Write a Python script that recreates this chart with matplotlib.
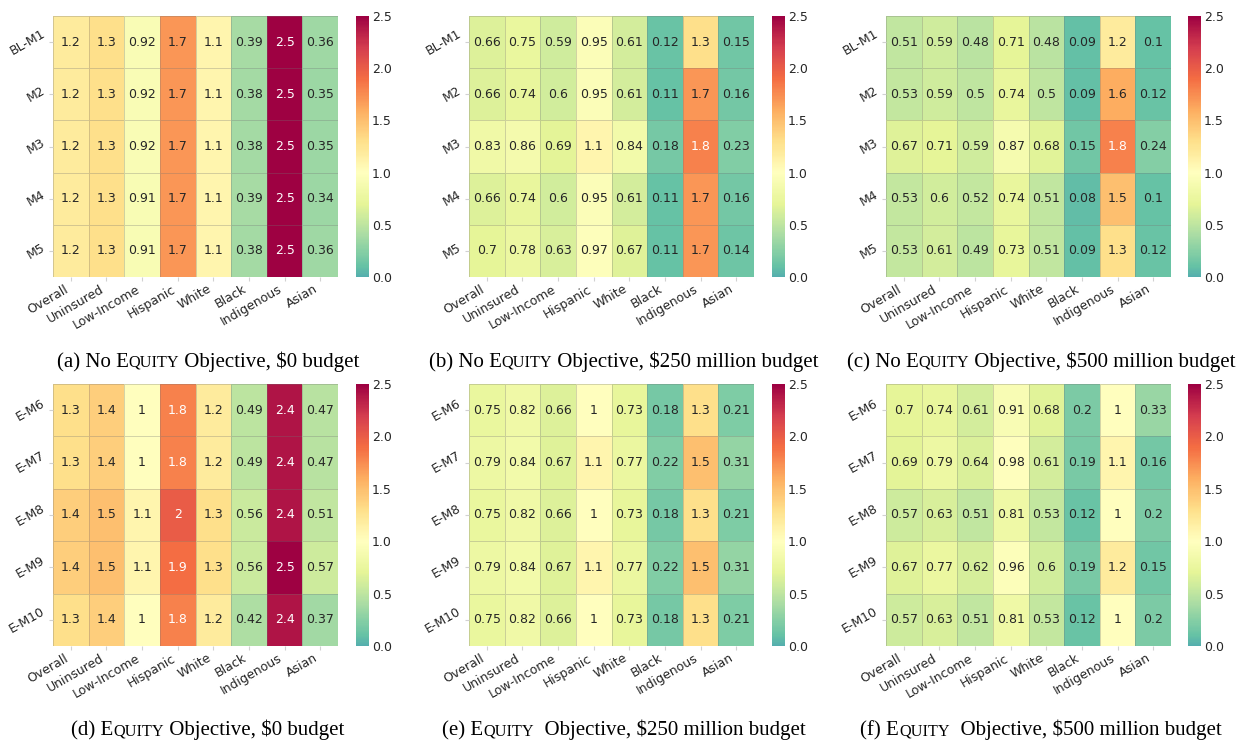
import numpy as np
import matplotlib
matplotlib.use("Agg")
import matplotlib.pyplot as plt
from matplotlib.colors import ListedColormap, Normalize

plt.rcParams["font.family"] = ["DejaVu Sans"]

# ---- data -------------------------------------------------------------
groups = ["Overall", "Uninsured", "Low-Income", "Hispanic", "White",
          "Black", "Indigenous", "Asian"]
baseline_models = ["BL-M1", "M2", "M3", "M4", "M5"]
equity_models = ["E-M6", "E-M7", "E-M8", "E-M9", "E-M10"]

no_equity_0 = [
    [1.2, 1.3, 0.92, 1.7, 1.1, 0.39, 2.5, 0.36],
    [1.2, 1.3, 0.92, 1.7, 1.1, 0.38, 2.5, 0.35],
    [1.2, 1.3, 0.92, 1.7, 1.1, 0.38, 2.5, 0.35],
    [1.2, 1.3, 0.91, 1.7, 1.1, 0.39, 2.5, 0.34],
    [1.2, 1.3, 0.91, 1.7, 1.1, 0.38, 2.5, 0.36],
]
no_equity_250 = [
    [0.66, 0.75, 0.59, 0.95, 0.61, 0.12, 1.3, 0.15],
    [0.66, 0.74, 0.6, 0.95, 0.61, 0.11, 1.7, 0.16],
    [0.83, 0.86, 0.69, 1.1, 0.84, 0.18, 1.8, 0.23],
    [0.66, 0.74, 0.6, 0.95, 0.61, 0.11, 1.7, 0.16],
    [0.7, 0.78, 0.63, 0.97, 0.67, 0.11, 1.7, 0.14],
]
no_equity_500 = [
    [0.51, 0.59, 0.48, 0.71, 0.48, 0.09, 1.2, 0.1],
    [0.53, 0.59, 0.5, 0.74, 0.5, 0.09, 1.6, 0.12],
    [0.67, 0.71, 0.59, 0.87, 0.68, 0.15, 1.8, 0.24],
    [0.53, 0.6, 0.52, 0.74, 0.51, 0.08, 1.5, 0.1],
    [0.53, 0.61, 0.49, 0.73, 0.51, 0.09, 1.3, 0.12],
]
equity_0 = [
    [1.3, 1.4, 1.0, 1.8, 1.2, 0.49, 2.4, 0.47],
    [1.3, 1.4, 1.0, 1.8, 1.2, 0.49, 2.4, 0.47],
    [1.4, 1.5, 1.1, 2.0, 1.3, 0.56, 2.4, 0.51],
    [1.4, 1.5, 1.1, 1.9, 1.3, 0.56, 2.5, 0.57],
    [1.3, 1.4, 1.0, 1.8, 1.2, 0.42, 2.4, 0.37],
]
equity_250 = [
    [0.75, 0.82, 0.66, 1.0, 0.73, 0.18, 1.3, 0.21],
    [0.79, 0.84, 0.67, 1.1, 0.77, 0.22, 1.5, 0.31],
    [0.75, 0.82, 0.66, 1.0, 0.73, 0.18, 1.3, 0.21],
    [0.79, 0.84, 0.67, 1.1, 0.77, 0.22, 1.5, 0.31],
    [0.75, 0.82, 0.66, 1.0, 0.73, 0.18, 1.3, 0.21],
]
equity_500 = [
    [0.7, 0.74, 0.61, 0.91, 0.68, 0.2, 1.0, 0.33],
    [0.69, 0.79, 0.64, 0.98, 0.61, 0.19, 1.1, 0.16],
    [0.57, 0.63, 0.51, 0.81, 0.53, 0.12, 1.0, 0.2],
    [0.67, 0.77, 0.62, 0.96, 0.6, 0.19, 1.2, 0.15],
    [0.57, 0.63, 0.51, 0.81, 0.53, 0.12, 1.0, 0.2],
]

# caption pieces: (label, small-caps word, rest of line)
caption_a = ("(a) No ", "Equity", " Objective, \\$0 budget")
caption_b = ("(b) No ", "Equity", " Objective, \\$250 million budget")
caption_c = ("(c) No ", "Equity", " Objective, \\$500 million budget")
caption_d = ("(d) ", "Equity", " Objective, \\$0 budget")
caption_e = ("(e) ", "Equity", "  Objective, \\$250 million budget")
caption_f = ("(f) ", "Equity", "  Objective, \\$500 million budget")

# ---- figure setup -----------------------------------------------------
W, H = 1239, 740
DPI = 100
fig = plt.figure(figsize=(W / DPI, H / DPI), dpi=DPI)
fig.patch.set_facecolor("white")

TEXT = "#262626"
SERIF = ["Liberation Serif", "DejaVu Serif"]
FS = 9

VMIN, VMAX, CENTER = 0.0, 2.5, 1.0
# Spectral_r re-centred on 1.0 (symmetric range around the centre, then cropped)
vrange = max(VMAX - CENTER, CENTER - VMIN)
lo = (VMIN - (CENTER - vrange)) / (2 * vrange)
hi = (VMAX - (CENTER - vrange)) / (2 * vrange)
base = plt.get_cmap("Spectral_r")
cmap = ListedColormap(base(np.linspace(lo, hi, 256)))
norm = Normalize(VMIN, VMAX)


def luminance(rgb):
    c = np.asarray(rgb[:3], dtype=float)
    c = np.where(c <= 0.03928, c / 12.92, ((c + 0.055) / 1.055) ** 2.4)
    return 0.2126 * c[0] + 0.7152 * c[1] + 0.0722 * c[2]


def px_box(left, top, right, bottom):
    return [left / W, 1 - bottom / H, (right - left) / W, (bottom - top) / H]


def draw_heatmap(values, rows, hm_left, top, bottom, cb_left):
    data = np.asarray(values, dtype=float)
    nrow, ncol = data.shape
    ax = fig.add_axes(px_box(hm_left, top, hm_left + 285, bottom))
    mesh = ax.pcolormesh(np.arange(ncol + 1), np.arange(nrow + 1), data,
                         cmap=cmap, norm=norm,
                         edgecolors=(0.45, 0.45, 0.45, 0.3), linewidth=0.7)
    ax.set_xlim(0, ncol)
    ax.set_ylim(nrow, 0)
    for sp in ax.spines.values():
        sp.set_visible(False)
    for i in range(nrow):
        for j in range(ncol):
            v = data[i, j]
            col = TEXT if luminance(cmap(norm(v))) > 0.408 else "white"
            ax.text(j + 0.5, i + 0.5, format(v, ".2g"), ha="center",
                    va="center", fontsize=FS, color=col)
    ax.set_xticks(np.arange(ncol) + 0.5)
    ax.set_xticklabels(groups, rotation=30, ha="right")
    ax.set_yticks(np.arange(nrow) + 0.5)
    ax.set_yticklabels(rows, rotation=30, ha="right", va="center")
    ax.tick_params(axis="both", length=3, width=0.8, color="0.82",
                   labelsize=FS, labelcolor=TEXT)
    ax.tick_params(axis="x", pad=1)
    ax.tick_params(axis="y", pad=1)

    cax = fig.add_axes(px_box(cb_left, top, cb_left + 13, bottom))
    cb = fig.colorbar(mesh, cax=cax)
    cb.outline.set_visible(False)
    cb.set_ticks([0.0, 0.5, 1.0, 1.5, 2.0, 2.5])
    cb.ax.yaxis.set_major_formatter("{x:.1f}")
    cb.ax.tick_params(length=0, pad=2, labelsize=FS, labelcolor=TEXT)
    return ax


renderer = fig.canvas.get_renderer()


def run_width(s, size):
    # advance width of a run, spaces included, measured between bars
    t1 = fig.text(0, 0, "|" + s + "|", fontsize=size, family=SERIF)
    t2 = fig.text(0, 0, "||", fontsize=size, family=SERIF)
    w = t1.get_window_extent(renderer).width - t2.get_window_extent(renderer).width
    t1.remove()
    t2.remove()
    return w


CAP_SIZE = 15
SC_SIZE = CAP_SIZE * 0.78


def draw_caption(parts, cx, baseline):
    head, word, tail = parts
    pieces = [(head + word[0], CAP_SIZE), (word[1:].upper(), SC_SIZE),
              (tail, CAP_SIZE)]
    widths = [run_width(s, sz) for s, sz in pieces]
    x = cx - sum(widths) / 2
    for (s, sz), w in zip(pieces, widths):
        fig.text(x / W, 1 - baseline / H, s, fontsize=sz, family=SERIF,
                 color="black", ha="left", va="baseline")
        x += w


# ---- panels -----------------------------------------------------------
ROW1 = (16, 277)
ROW2 = (384, 646)
COLS = [(53, 356, 208), (469, 772, 624), (886, 1188, 1041)]

panels = [
    (no_equity_0, baseline_models, ROW1, COLS[0], caption_a, 367),
    (no_equity_250, baseline_models, ROW1, COLS[1], caption_b, 367),
    (no_equity_500, baseline_models, ROW1, COLS[2], caption_c, 367),
    (equity_0, equity_models, ROW2, COLS[0], caption_d, 735),
    (equity_250, equity_models, ROW2, COLS[1], caption_e, 735),
    (equity_500, equity_models, ROW2, COLS[2], caption_f, 735),
]

for values, rows, (top, bottom), (hm_left, cb_left, cx), cap, base_y in panels:
    draw_heatmap(values, rows, hm_left, top, bottom, cb_left)
    draw_caption(cap, cx, base_y)

fig.savefig("out.png", dpi=DPI, facecolor="white")
